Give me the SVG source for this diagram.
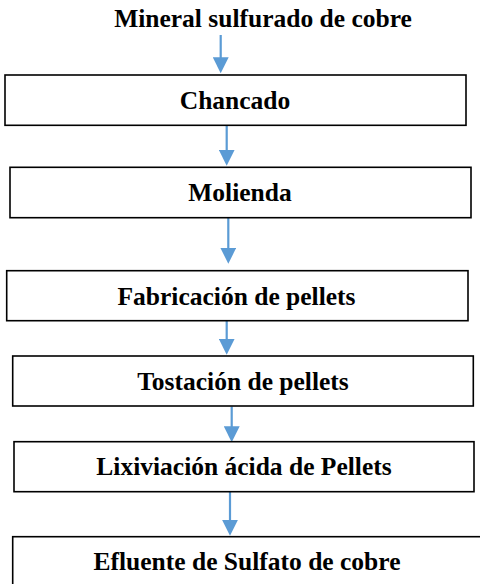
<svg xmlns="http://www.w3.org/2000/svg" width="480" height="584" viewBox="0 0 480 584">
<style>
.box{fill:#fff;stroke:#000;stroke-width:1.6}
.lbl{font-weight:bold;font-size:25.5px;fill:#000;text-anchor:middle}
.conn{stroke:#5B9BD5;stroke-width:2.2;fill:none}
</style>
<defs>
<marker id="ah" markerUnits="userSpaceOnUse" markerWidth="16" markerHeight="16" viewBox="0 0 15 15" refX="11" refY="7.5" orient="auto">
<path d="M0,0 L15,7.5 L0,15 z" fill="#5B9BD5"/>
</marker>
</defs>
<rect width="480" height="584" fill="#fff"/>
<g id="connectors">
<line class="conn" x1="220.7" y1="35" x2="220.7" y2="69" marker-end="url(#ah)"/>
<line class="conn" x1="226.7" y1="125.5" x2="226.7" y2="161.5" marker-end="url(#ah)"/>
<line class="conn" x1="228.3" y1="218" x2="228.3" y2="259.5" marker-end="url(#ah)"/>
<line class="conn" x1="226.7" y1="321" x2="226.7" y2="350.5" marker-end="url(#ah)"/>
<line class="conn" x1="231.7" y1="406.5" x2="231.7" y2="438" marker-end="url(#ah)"/>
<line class="conn" x1="230" y1="492" x2="230" y2="531.5" marker-end="url(#ah)"/>
</g>
<g font-family="Liberation Serif, Times New Roman, DejaVu Serif, serif">
<g id="n0">
<text class="lbl" x="263" y="26.5">Mineral sulfurado de cobre</text>
</g>
<g id="n1">
<rect class="box" x="5" y="75" width="461" height="50.3"/>
<text class="lbl" x="235" y="108.5">Chancado</text>
</g>
<g id="n2">
<rect class="box" x="10" y="167.3" width="461" height="50.4"/>
<text class="lbl" x="240" y="200.5">Molienda</text>
</g>
<g id="n3">
<rect class="box" x="6.7" y="270.7" width="461.3" height="50"/>
<text class="lbl" x="236.5" y="305">Fabricación de pellets</text>
</g>
<g id="n4">
<rect class="box" x="12.7" y="356" width="460.6" height="50"/>
<text class="lbl" x="243" y="390">Tostación de pellets</text>
</g>
<g id="n5">
<rect class="box" x="14" y="441.7" width="460" height="50"/>
<text class="lbl" x="244" y="475">Lixiviación ácida de Pellets</text>
</g>
<g id="n6">
<rect class="box" x="12.7" y="536.7" width="480" height="60"/>
<text class="lbl" x="247" y="569.5">Efluente de Sulfato de cobre</text>
</g>
</g>
</svg>
